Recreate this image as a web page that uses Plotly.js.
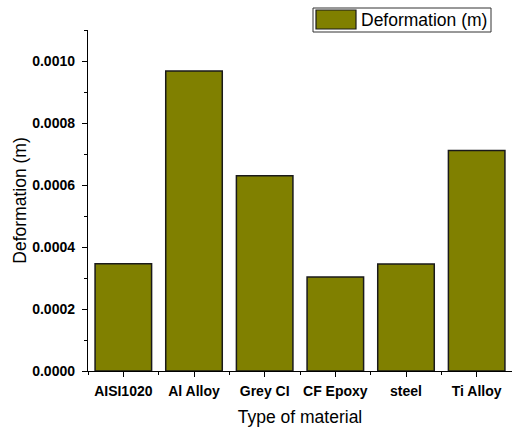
<!DOCTYPE html>
<html>
<head>
<meta charset="utf-8">
<script src="https://cdn.plot.ly/plotly-3.0.1.min.js"></script>
<style>html,body{margin:0;padding:0;background:#fff;overflow:hidden}</style>
</head>
<body>
<div id="chart" style="width:512px;height:432px"></div>
<script>
const categories = ["AISI1020", "Al Alloy", "Grey CI", "CF Epoxy", "steel", "Ti Alloy"];
const deformation = [0.000346, 0.000968, 0.000630, 0.000303, 0.000345, 0.000711];
const seriesName = "Deformation (m)";
const xTitle = "Type of material";
const yTitle = "Deformation (m)";
const yTicks = [0, 0.0002, 0.0004, 0.0006, 0.0008, 0.0010];

const positions = categories.map((c, i) => i);
const FONT = "Arial, 'Liberation Sans', sans-serif";
const barColor = "#808000";

const trace = {
  type: "bar",
  x: positions,
  y: deformation,
  name: seriesName,
  width: 0.8,
  marker: { color: barColor, line: { color: "#1a1a1a", width: 1.5 } },
  showlegend: false,
  hoverinfo: "y"
};

const layout = {
  width: 512, height: 432,
  margin: { l: 88, r: 0, t: 30, b: 61, pad: 0 },
  paper_bgcolor: "#fff", plot_bgcolor: "#fff",
  font: { family: FONT, color: "#000" },
  xaxis: {
    type: "linear",
    range: [-0.5, 5.5],
    tickvals: positions,
    ticktext: categories,
    tickfont: { family: FONT, size: 14, weight: "bold", color: "#000" },
    ticks: "outside", ticklen: 5, tickwidth: 1, tickcolor: "#000",
    ticklabelstandoff: 2,
    minor: { dtick: 0.5, tick0: -0.5, ticks: "outside", ticklen: 3, tickwidth: 1, tickcolor: "#000", showgrid: false },
    showline: true, linecolor: "#000", linewidth: 1.2,
    showgrid: false, zeroline: false,
    title: { text: xTitle, font: { family: FONT, size: 17.5, color: "#000" }, standoff: 12 }
  },
  yaxis: {
    range: [0, 0.0011],
    tickvals: yTicks,
    tickformat: ".4f",
    tickfont: { family: FONT, size: 14, weight: "bold", color: "#000" },
    ticks: "outside", ticklen: 5, tickwidth: 1, tickcolor: "#000",
    ticklabelstandoff: 4,
    minor: { dtick: 0.0001, tick0: 0, ticks: "outside", ticklen: 3, tickwidth: 1, tickcolor: "#000", showgrid: false },
    showline: true, linecolor: "#000", linewidth: 1.2,
    showgrid: false, zeroline: false,
    title: { text: yTitle, font: { family: FONT, size: 17.5, color: "#000" }, standoff: 1 }
  },
  shapes: [
    { type: "rect", xref: "paper", yref: "paper",
      x0: (313 - 88) / 424, x1: (491 - 88) / 424,
      y0: (371 - 32) / 341, y1: (371 - 8) / 341,
      line: { color: "#333", width: 1 }, fillcolor: "#fff" },
    { type: "rect", xref: "paper", yref: "paper",
      x0: (316 - 88) / 424, x1: (356 - 88) / 424,
      y0: (371 - 29) / 341, y1: (371 - 10) / 341,
      line: { color: "#1a1a1a", width: 1.2 }, fillcolor: barColor }
  ],
  annotations: [
    { xref: "paper", yref: "paper", x: (359 - 88) / 424, y: (371 - 20) / 341,
      xanchor: "left", yanchor: "middle", showarrow: false, text: seriesName,
      font: { family: FONT, size: 17.5, color: "#000" } }
  ],
  bargap: 0.2
};

Plotly.newPlot("chart", [trace], layout, { displayModeBar: false, staticPlot: true });
</script>
</body>
</html>
